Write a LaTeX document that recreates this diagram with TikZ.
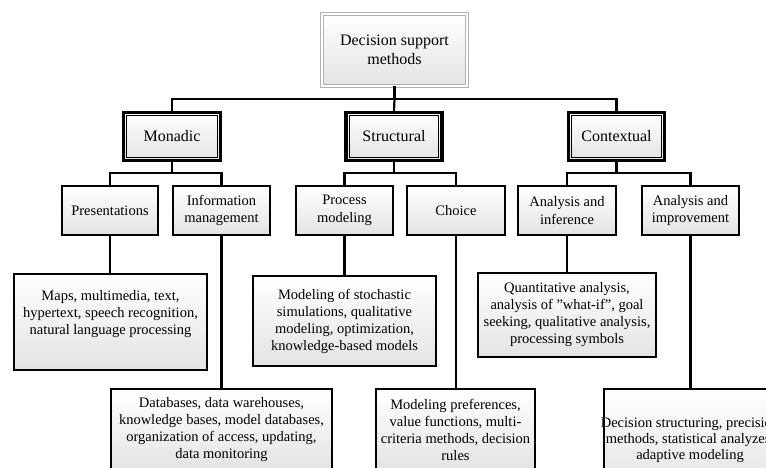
\documentclass[tikz,border=0pt]{standalone}
\usepackage{fontspec}
\setmainfont{Liberation Serif}
\usetikzlibrary{calc}
\tikzset{
  base/.style={rectangle, inner sep=0pt, align=center, top color=white, bottom color=black!11},
  lvlzero/.style={base, draw=gray!60, double=white, double distance=1.6pt, line width=0.8pt,
    font=\fontsize{16}{19}\selectfont},
  lvlone/.style={base, draw=black, line width=3.4pt, font=\fontsize{16}{19}\selectfont,
    path picture={\draw[line width=1pt] ([shift={(3.1pt,3.1pt)}]path picture bounding box.south west)
      rectangle ([shift={(-3.1pt,-3.1pt)}]path picture bounding box.north east);}},
  lvltwo/.style={base, draw=black, line width=2.2pt, font=\fontsize{14.5}{17.5}\selectfont},
  lvlthree/.style={base, draw=black, line width=2.2pt, font=\fontsize{14.5}{17}\selectfont},
  txt/.style={align=center, inner sep=0pt, font=\fontsize{14.5}{17}\selectfont},
  conn/.style={draw=black, line width=2.2pt},
}
\begin{document}
\begin{tikzpicture}[x=1pt, y=-1pt]
\useasboundingbox (0,0) rectangle (766,468);
\clip (0,0) rectangle (766,468);
\fill[white] (0,0) rectangle (766,468);

% level 0
\node[lvlzero, minimum width=145pt, minimum height=72pt] (root) at (394.5,50) {Decision support\\methods};

% level 1
\node[lvlone, minimum width=97pt, minimum height=48pt] (mon) at (172,136.5) {Monadic};
\node[lvlone, minimum width=96pt, minimum height=48pt] (str) at (394,136.5) {Structural};
\node[lvlone, minimum width=96pt, minimum height=48pt] (con) at (616.5,136.5) {Contextual};

% level 2
\node[lvltwo, minimum width=96pt, minimum height=49pt] (pres) at (110,210.5) {Presentations};
\node[lvltwo, minimum width=97pt, minimum height=49pt] (info) at (221.5,210.5) {Information\\management};
\node[lvltwo, minimum width=97pt, minimum height=49pt] (proc) at (344.5,210.5) {Process\\modeling};
\node[lvltwo, minimum width=98pt, minimum height=49pt] (cho) at (456,210.5) {Choice};
\node[lvltwo, minimum width=98pt, minimum height=49pt] (ainf) at (567,210.5) {Analysis and\\inference};
\node[lvltwo, minimum width=97pt, minimum height=49pt] (aimp) at (690.5,210.5) {Analysis and\\improvement};

% level 3
\node[lvlthree, minimum width=193pt, minimum height=96pt] (maps) at (110.5,322) {};
\node[txt] (mapstext) at (110.5,314) {Maps, multimedia, text,\\hypertext, speech recognition,\\natural language processing};
\node[lvlthree, minimum width=183pt, minimum height=90pt] (stoch) at (344.5,321)
  {Modeling of stochastic\\simulations, qualitative\\modeling, optimization,\\knowledge-based models};
\node[lvlthree, minimum width=178pt, minimum height=84pt] (quant) at (567,315)
  {Quantitative analysis,\\analysis of \symbol{34}what-if\symbol{34}, goal\\seeking, qualitative analysis,\\processing symbols};
\node[lvlthree, minimum width=221pt, minimum height=82pt] (db) at (221.5,430)
  {Databases, data warehouses,\\knowledge bases, model databases,\\organization of access, updating,\\data monitoring};
\node[lvlthree, minimum width=159pt, minimum height=82pt] (pref) at (455.5,430)
  {Modeling preferences,\\value functions, multi-\\criteria methods, decision\\rules};
\node[lvlthree, minimum width=172pt, minimum height=102pt, inner xsep=-6pt,
  font=\fontsize{14.5}{16}\selectfont] (dec) at (690,440)
  {Decision structuring, precision\\methods, statistical analyzes,\\adaptive modeling};

% connectors level 0 -> 1
\coordinate (bus0) at (394.5,99);
\draw[conn] (root.south) -- (bus0);
\draw[conn] (mon.north) |- (bus0) -| (con.north);
\draw[conn] (bus0) -- (str.north);

% level 1 -> 2
\draw[conn] (pres.north) |- (mon.south |- 0,173) -| (info.north);
\draw[conn] (mon.south) -- (mon.south |- 0,173);
\draw[conn] (proc.north) |- (str.south |- 0,173) -| (cho.north);
\draw[conn] (str.south) -- (str.south |- 0,173);
\draw[conn] (ainf.north) |- (con.south |- 0,173) -| (aimp.north);
\draw[conn] (con.south) -- (con.south |- 0,173);

% level 2 -> 3
\draw[conn] (pres.south) -- (pres.south |- maps.north);
\draw[conn] (info.south) -- (info.south |- db.north);
\draw[conn] (proc.south) -- (proc.south |- stoch.north);
\draw[conn] (cho.south) -- (cho.south |- pref.north);
\draw[conn] (ainf.south) -- (ainf.south |- quant.north);
\draw[conn] (aimp.south) -- (aimp.south |- dec.north);
\end{tikzpicture}
\end{document}
